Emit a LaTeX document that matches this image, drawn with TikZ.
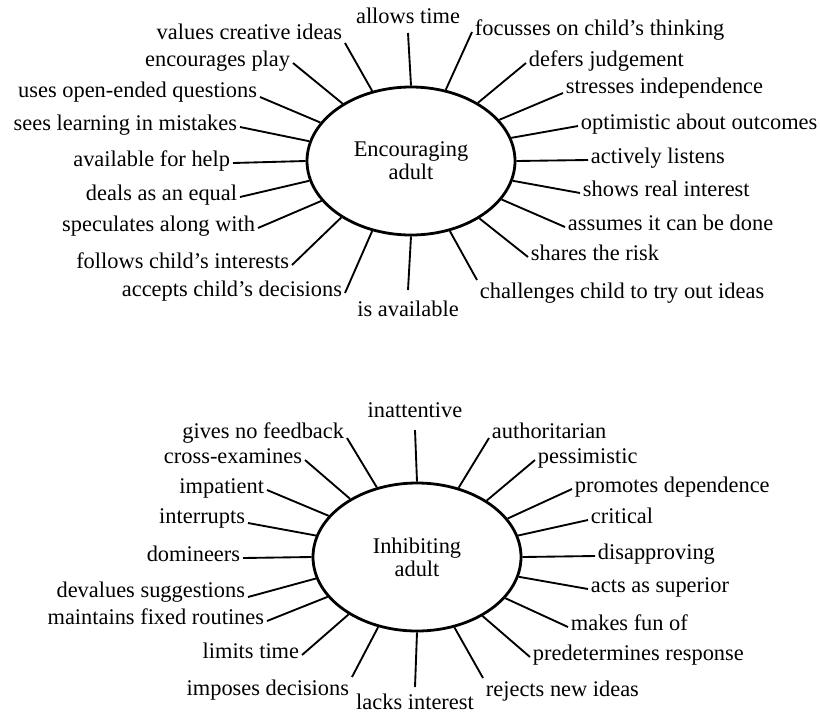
\documentclass[tikz,border=0pt]{standalone}
\usepackage{fontspec}
\setmainfont{Liberation Serif}
\usetikzlibrary{shapes.geometric}

\begin{document}
\begin{tikzpicture}[x=0.75pt,y=-0.75pt,font=\fontsize{16.8}{17.5}\selectfont,
  hub/.style={draw,ellipse,line width=2.1pt,minimum width=156pt,minimum height=111pt,align=center,inner sep=0pt},
  spoke/.style={line width=1.4pt},
  lbl/.style={inner sep=2pt}]
  \useasboundingbox (0,0) rectangle (820,715);
  \node[hub] (enc) at (411,161) {Encouraging\\adult};
  \node[hub] (inh) at (417,557) {Inhibiting\\adult};
  \node[lbl,anchor=south,outer ysep=5pt] (etop) at (408,33) {allows time};
  \node[lbl,anchor=north,outer ysep=6pt] (ebot) at (408,290) {is available};
  \node[lbl,anchor=south,outer ysep=7pt] (itop) at (415,430) {inattentive};
  \node[lbl,anchor=north,outer ysep=3pt] (ibot) at (415,687) {lacks interest};
  \draw[spoke] (enc.90) -- (etop.south);
  \draw[spoke] (enc.270) -- (ebot.north);
  \draw[spoke] (inh.90) -- (itop.south);
  \draw[spoke] (inh.270) -- (ibot.north);
  \foreach \a/\x/\y/\s/\t [count=\i] in {
    119.5/345/43/south east/values creative ideas,
    140.5/293/63/mid east/encourages play,
    157.4/260/97/base east/uses open-ended questions,
    169.3/240/127/mid east/sees learning in mistakes,
    180/233/163/mid east/available for help,
    191.9/240/197/mid east/deals as an equal,
    204.3/258/228/mid east/speculates along with,
    219.7/292/265/mid east/follows child's interests,
    241.6/345/293/mid east/accepts child's decisions,
    299/477/280/north west/challenges child to try out ideas,
    320.4/528/257/mid west/shares the risk,
    337.9/565/227/mid west/assumes it can be done,
    349.4/580/193/mid west/shows real interest,
    0/588/160/mid west/actively listens,
    13.2/578/126/mid west/optimistic about outcomes,
    25.3/563/93/base west/stresses independence,
    41.4/526/63/mid west/defers judgement,
    64.4/472/32/mid west/focusses on child's thinking}
  {
    \node[lbl,anchor=\s] (e\i) at (\x,\y) {\t};
    \draw[spoke] (enc.\a) -- (e\i.\s);
  }
  \foreach \a/\x/\y/\s/\t [count=\i] in {
    120.1/347/438/base east/gives no feedback,
    139.6/305/460/mid east/cross-examines,
    155.8/267/490/mid east/impatient,
    168.7/248/523/base east/interrupts,
    180/243/558/mid east/domineers,
    192.9/248/597/base east/devalues suggestions,
    204/267/621/mid east/maintains fixed routines,
    220/302/655/mid east/limits time,
    241.2/352/677/north east/imposes decisions,
    298.8/483/678/north west/rejects new ideas,
    318.7/530/657/mid west/predetermines response,
    335.5/568/627/mid west/makes fun of,
    349/588/589/mid west/acts as superior,
    0/595/556/mid west/disapproving,
    12.7/588/520/mid west/critical,
    23.7/572/489/mid west/promotes dependence,
    39.2/535/460/mid west/pessimistic,
    59.3/489/438/base west/authoritarian}
  {
    \node[lbl,anchor=\s] (i\i) at (\x,\y) {\t};
    \draw[spoke] (inh.\a) -- (i\i.\s);
  }
\end{tikzpicture}
\end{document}
